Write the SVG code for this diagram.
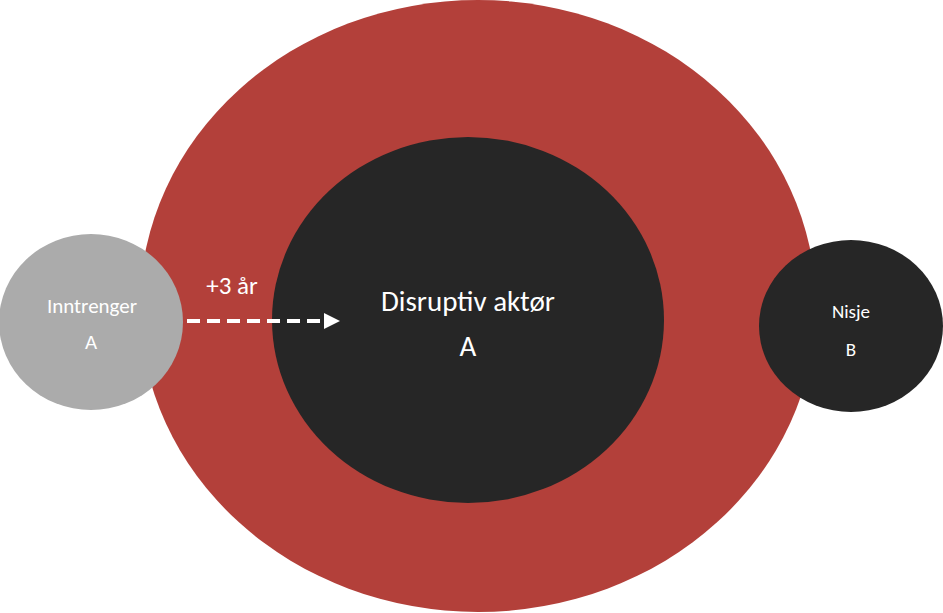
<svg xmlns="http://www.w3.org/2000/svg" width="943" height="613" viewBox="0 0 943 613">
<style>
text{font-family:"Carlito","Liberation Sans",sans-serif;fill:#fff;text-anchor:middle}
</style>
<defs><marker id="ah" markerWidth="4" markerHeight="4" refX="2" refY="2" orient="auto" markerUnits="strokeWidth"><path d="M0,0L4,2L0,4Z" fill="#fff"/></marker></defs>
<rect width="943" height="613" fill="#fff"/>
<g id="outer"><ellipse cx="478" cy="306" rx="338" ry="306" fill="#B3403A"/></g>
<g id="disruptiv"><ellipse cx="468" cy="320" rx="196" ry="183" fill="#262626"/>
<text x="468" y="311" font-size="29">Disruptiv aktør</text><text x="468" y="356" font-size="29">A</text></g>
<g id="inntrenger"><ellipse cx="91" cy="322" rx="92" ry="88" fill="#ABABAB"/>
<text x="92" y="313" font-size="21">Inntrenger</text><text x="91" y="349" font-size="21">A</text></g>
<g id="nisje"><ellipse cx="851" cy="326" rx="92" ry="86" fill="#262626"/>
<text x="851" y="318" font-size="19">Nisje</text><text x="851" y="356" font-size="19">B</text></g>
<g id="connectors"><line x1="187" y1="321" x2="332" y2="321" stroke="#fff" stroke-width="4" stroke-dasharray="13,7" marker-end="url(#ah)"/>
<text x="232" y="294" font-size="25">+3 år</text></g>
</svg>
